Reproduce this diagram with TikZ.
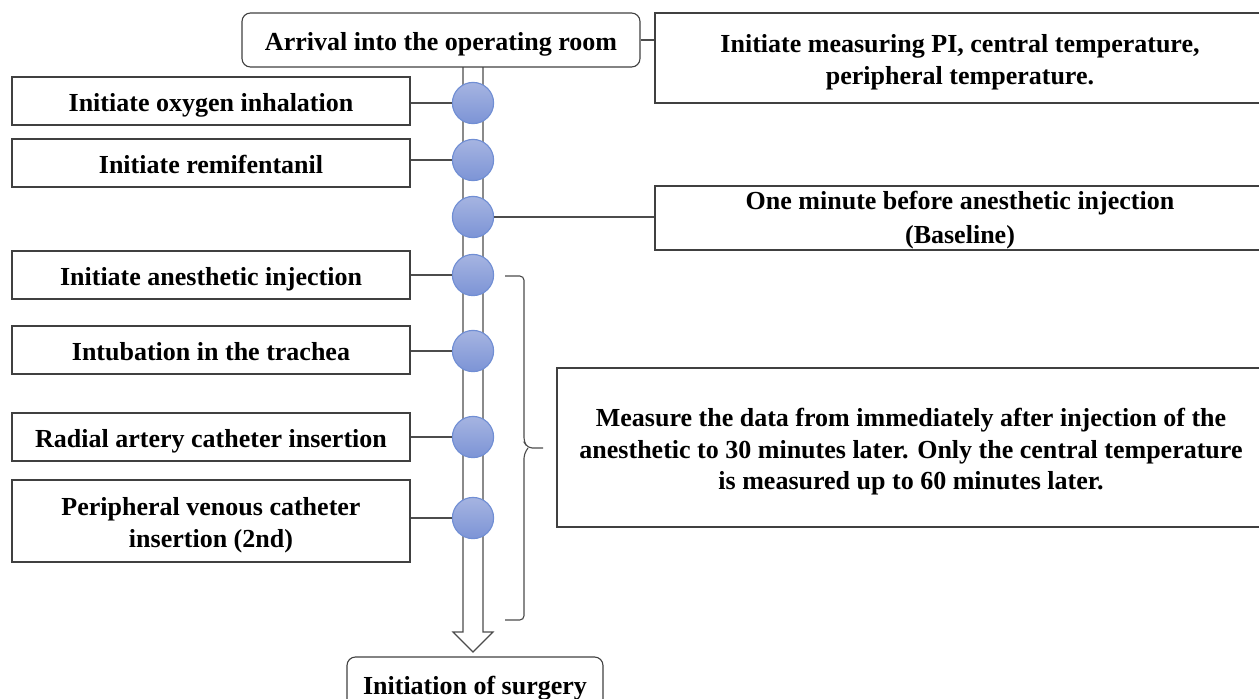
\documentclass[tikz,border=0pt]{standalone}
\usepackage{fontspec}
\setmainfont{Liberation Serif}
\usepackage{xcolor}
\usepackage{tikz}

\definecolor{dottop}{RGB}{166,180,225}
\definecolor{dotbot}{RGB}{124,148,214}
\definecolor{dotline}{RGB}{112,142,212}
\newcommand\boxtop{19.5pt}
\newcommand\boxbot{4.5pt}

\begin{document}
\begin{tikzpicture}[
box/.style={draw=black!75,line width=0.8pt,font=\fontsize{18.5}{22.5}\selectfont\bfseries,align=flush center,inner sep=0pt,
minimum width=#1,text width=#1,
execute at begin node={\rule{0pt}{\boxtop}},execute at end node={\rule[-\boxbot]{0pt}{\boxbot}}},
rbox/.style={box=#1,rounded corners=6pt},
dot/.style={circle,draw=dotline,line width=0.8pt,top color=dottop,bottom color=dotbot,minimum size=1.03cm,inner sep=0pt},
link/.style={draw=black!70,line width=0.8pt}]
\useasboundingbox (0,0) rectangle (31.475,-17.45);
\clip (0,0) rectangle (31.475,-17.45);
% time line
\draw[link,fill=white](11.575,-1.675)--(11.575,-15.8)--(11.325,-15.8)--(11.825,-16.3)
--(12.325,-15.8)--(12.075,-15.8)--(12.075,-1.675);
% boxes
\node[rbox=9.95cm,minimum height=1.35cm] (arr) at (11.025,-1.0) {Arrival into the operating room};
\node[box=15.25cm,minimum height=2.25cm] (pi) at (24.0,-1.45) {Initiate measuring PI, central temperature,\\peripheral temperature.};
\node[box=15.25cm,minimum height=1.6cm,/utils/exec={\def\boxtop{16pt}\def\boxbot{0pt}}] (base) at (24.0,-5.45) {One minute before anesthetic injection\\[2pt](Baseline)};
\node[box=17.7cm,minimum height=3.975cm] (meas) at (22.775,-11.1875) {Measure the data from immediately after injection of the\\anesthetic to 30 minutes later. Only the central temperature\\is measured up to 60 minutes later.};
\node[box=9.95cm,minimum height=1.2cm] (oxy) at (5.275,-2.525) {Initiate oxygen inhalation};
\node[box=9.95cm,minimum height=1.2cm] (remi) at (5.275,-4.075) {Initiate remifentanil};
\node[box=9.95cm,minimum height=1.2cm] (inj) at (5.275,-6.875) {Initiate anesthetic injection};
\node[box=9.95cm,minimum height=1.2cm] (intub) at (5.275,-8.75) {Intubation in the trachea};
\node[box=9.95cm,minimum height=1.2cm] (rad) at (5.275,-10.925) {Radial artery catheter insertion};
\node[box=9.95cm,minimum height=2.05cm] (per) at (5.275,-13.025) {Peripheral venous catheter\\insertion (2nd)};
\node[rbox=6.4cm,minimum height=1.35cm] (surg) at (11.875,-17.1) {Initiation of surgery};
% time points
\node[dot] (d1) at (11.825,-2.575) {};
\node[dot] (d2) at (11.825,-4.0) {};
\node[dot] (d3) at (11.825,-5.425) {};
\node[dot] (d4) at (11.825,-6.875) {};
\node[dot] (d5) at (11.825,-8.775) {};
\node[dot] (d6) at (11.825,-10.925) {};
\node[dot] (d7) at (11.825,-12.95) {};
\draw[link](arr.east)--(arr.east-|pi.west)
(oxy.east|-d1)--(d1)
(remi.east|-d2)--(d2)
(base.west|-d3)--(d3)
(inj.east|-d4)--(d4)
(intub.east|-d5)--(d5)
(rad.east|-d6)--(d6)
(per.east|-d7)--(d7);
% brace
\draw[link,rounded corners=3pt](12.625,-6.9)--(13.1,-6.9)--(13.1,-11.05)--(13.2,-11.2)--(13.575,-11.2)
(13.2,-11.2)--(13.1,-11.35)--(13.1,-15.5)--(12.625,-15.5);
\end{tikzpicture}
\end{document}
